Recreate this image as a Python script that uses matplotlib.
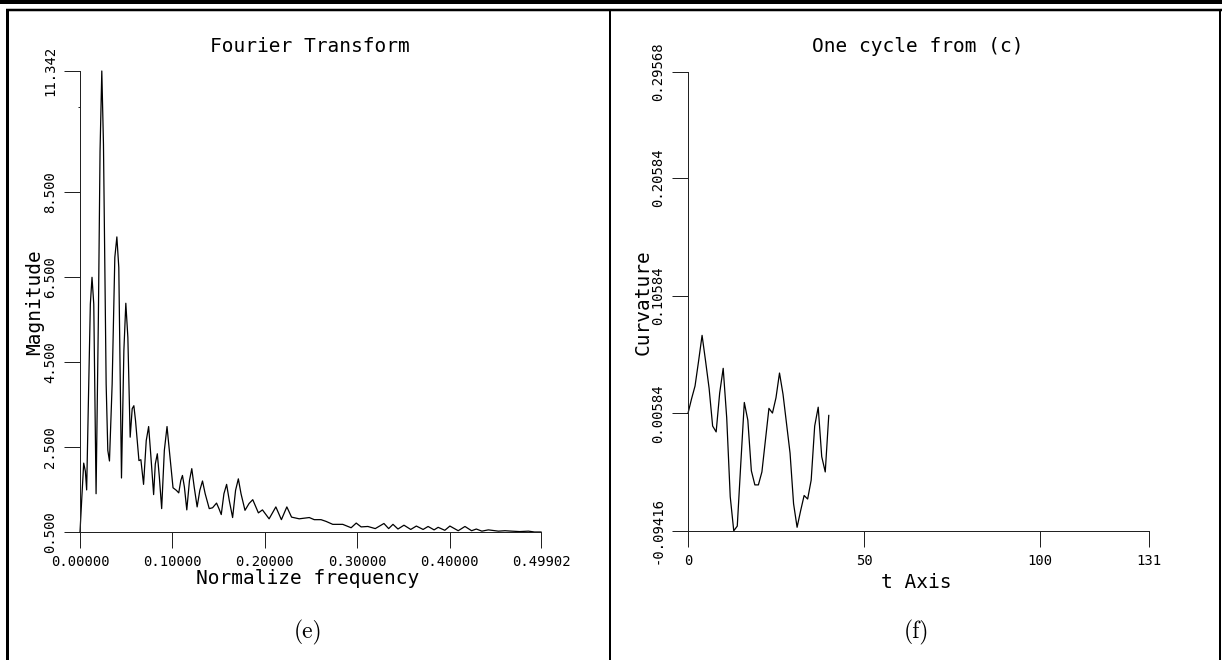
import matplotlib
matplotlib.use("Agg")
import matplotlib.pyplot as plt
from matplotlib.lines import Line2D
from matplotlib.patches import Rectangle

W, H = 1222, 660

# Panel (e): magnitude spectrum
freq = [0.0, 0.0018, 0.0040, 0.0058, 0.0072, 0.0094, 0.0112, 0.0130, 0.0149, 0.0174,
        0.0199, 0.0217, 0.0236, 0.0254, 0.0283, 0.0301, 0.0319, 0.0348, 0.0377, 0.0399,
        0.0420, 0.0449, 0.0475, 0.0496, 0.0518, 0.0543, 0.0565, 0.0583, 0.0601, 0.0638,
        0.0659, 0.0688, 0.0717, 0.0743, 0.0768, 0.0797, 0.0815, 0.0837, 0.0859, 0.0884,
        0.0913, 0.0942, 0.0967, 0.1007, 0.1043, 0.1069, 0.1091, 0.1109, 0.1130, 0.1156,
        0.1185, 0.1210, 0.1236, 0.1268, 0.1297, 0.1326, 0.1355, 0.1399, 0.1435, 0.1478,
        0.1504, 0.1529, 0.1558, 0.1587, 0.1616, 0.1652, 0.1684, 0.1714, 0.1743, 0.1786,
        0.1830, 0.1870, 0.1931, 0.1975, 0.2047, 0.2120, 0.2180, 0.2239, 0.2290, 0.2373,
        0.2482, 0.2536, 0.2609, 0.2663, 0.2736, 0.2844, 0.2935, 0.2990, 0.3043, 0.3116,
        0.3196, 0.3290, 0.3341, 0.3388, 0.3442, 0.3507, 0.3580, 0.3641, 0.3714, 0.3768,
        0.3833, 0.3877, 0.3949, 0.4004, 0.4094, 0.4167, 0.4239, 0.4290, 0.4350, 0.4420,
        0.4529, 0.4600, 0.4674, 0.4760, 0.4855, 0.4920, 0.49902]
magnitude = [0.50, 1.24, 2.12, 1.93, 1.49, 3.91, 5.86, 6.49, 5.86, 1.40,
             5.55, 9.46, 11.342, 9.62, 3.98, 2.42, 2.17, 3.98, 6.96, 7.44,
             6.72, 1.77, 4.77, 5.88, 5.08, 2.73, 3.40, 3.47, 3.12, 2.18,
             2.20, 1.62, 2.65, 2.98, 2.26, 1.38, 2.10, 2.34, 1.79, 1.05,
             2.42, 2.98, 2.42, 1.54, 1.48, 1.42, 1.71, 1.83, 1.56, 1.02,
             1.71, 1.99, 1.56, 1.09, 1.48, 1.70, 1.40, 1.05, 1.07, 1.18,
             1.05, 0.91, 1.40, 1.62, 1.24, 0.84, 1.48, 1.75, 1.40, 1.01,
             1.17, 1.26, 0.95, 1.02, 0.81, 1.09, 0.79, 1.09, 0.85, 0.81,
             0.84, 0.79, 0.79, 0.75, 0.68, 0.68, 0.60, 0.71, 0.62, 0.63,
             0.58, 0.70, 0.58, 0.68, 0.57, 0.66, 0.56, 0.64, 0.56, 0.63,
             0.55, 0.61, 0.54, 0.64, 0.53, 0.63, 0.53, 0.57, 0.52, 0.55,
             0.52, 0.53, 0.52, 0.51, 0.52, 0.50, 0.50]

# Panel (f): one cycle of curvature
t_axis = list(range(41))
curvature = [0.0058, 0.018, 0.029, 0.050, 0.072, 0.050, 0.027, -0.005, -0.010, 0.023,
             0.044, 0.002, -0.065, -0.094, -0.090, -0.037, 0.015, 0.000, -0.043, -0.055,
             -0.055, -0.044, -0.017, 0.010, 0.006, 0.019, 0.040, 0.022, -0.003, -0.028,
             -0.071, -0.091, -0.077, -0.064, -0.067, -0.051, -0.005, 0.011, -0.031, -0.044,
             0.004]

ft_xticks = [0.0, 0.1, 0.2, 0.3, 0.4, 0.49902]
ft_xticklabels = ["0.00000", "0.10000", "0.20000", "0.30000", "0.40000", "0.49902"]
ft_yticks = [0.5, 2.5, 4.5, 6.5, 8.5, 11.342]
ft_yticklabels = ["0.500", "2.500", "4.500", "6.500", "8.500", "11.342"]
ft_yminor = [10.5]

cy_xticks = [0, 50, 100, 131]
cy_xticklabels = ["0", "50", "100", "131"]
cy_yticks = [-0.09416, 0.00584, 0.10584, 0.20584, 0.29568]
cy_yticklabels = ["-0.09416", "0.00584", "0.10584", "0.20584", "0.29568"]

MONO = "DejaVu Sans Mono"
PT = 0.72  # points per pixel at 100 dpi
TICK_FS = 10
LABEL_FS = 14

fig = plt.figure(figsize=(W / 100, H / 100), dpi=100)
fig.patch.set_facecolor("white")


def fpos(x, y):
    return x / W, 1 - y / H


def make_axes(left, top, right, bottom):
    ax = fig.add_axes([left / W, 1 - bottom / H, (right - left) / W, (bottom - top) / H])
    ax.set_facecolor("none")
    for side in ("top", "right"):
        ax.spines[side].set_visible(False)
    for side in ("left", "bottom"):
        ax.spines[side].set_linewidth(1.0 * PT)
        ax.spines[side].set_color("#222222")
    ax.tick_params(which="major", direction="out", length=16 * PT, width=1.0 * PT,
                   color="#222222", labelsize=TICK_FS)
    ax.tick_params(axis="x", pad=7 * PT)
    ax.tick_params(axis="y", pad=7 * PT)
    return ax


# ---- panel (e)
ax1 = make_axes(80, 71, 541, 532)
ax1.plot(freq, magnitude, color="black", lw=0.9, clip_on=False)
ax1.set_xlim(0, 0.49902)
ax1.set_ylim(0.5, 11.342)
ax1.set_xticks(ft_xticks, labels=ft_xticklabels, fontfamily=MONO, fontsize=TICK_FS)
ax1.set_yticks(ft_yticks, labels=ft_yticklabels, fontfamily=MONO, fontsize=TICK_FS,
               rotation=90, va="center")
ax1.set_yticks(ft_yminor, minor=True)
ax1.tick_params(which="minor", direction="out", length=2 * PT, width=1.0 * PT, color="#222222")

# ---- panel (f)
ax2 = make_axes(688, 72, 1149, 531)
ax2.plot(t_axis, curvature, color="black", lw=0.9, clip_on=False)
ax2.set_xlim(0, 131)
ax2.set_ylim(-0.09416, 0.29568)
ax2.set_xticks(cy_xticks, labels=cy_xticklabels, fontfamily=MONO, fontsize=TICK_FS)
ax2.set_yticks(cy_yticks, labels=cy_yticklabels, fontfamily=MONO, fontsize=TICK_FS,
               rotation=90, va="center")


# ---- titles and axis labels
def label(x, y, s, size=LABEL_FS, rot=0, family=MONO):
    fx, fy = fpos(x, y)
    fig.text(fx, fy, s, ha="center", va="center", rotation=rot,
             fontsize=size, fontfamily=family, color="black")


label(310, 47, "Fourier Transform")
label(918, 47, "One cycle from (c)")
label(308, 579, "Normalize frequency")
label(916, 582, "t Axis")
label(35, 302, "Magnitude", rot=90)
label(643, 302, "Curvature", rot=90)
label(308, 632, "(e)", size=17, family="cmr10")
label(917, 632, "(f)", size=17, family="cmr10")

# ---- page frame
fig.patches.append(Rectangle(fpos(0, 4), 1, 4 / H, transform=fig.transFigure,
                             facecolor="black", edgecolor="none"))


def frame_line(x0, y0, x1, y1, w):
    (a, b), (c, d) = fpos(x0, y0), fpos(x1, y1)
    fig.lines.append(Line2D([a, c], [b, d], transform=fig.transFigure,
                            color="black", lw=w * PT, solid_capstyle="butt"))


frame_line(6, 10, 1222, 10, 2.5)
frame_line(7.5, 9, 7.5, 660, 3)
frame_line(610, 10, 610, 660, 2)
frame_line(1220, 10, 1220, 660, 2)

fig.savefig("out.png", dpi=100)
